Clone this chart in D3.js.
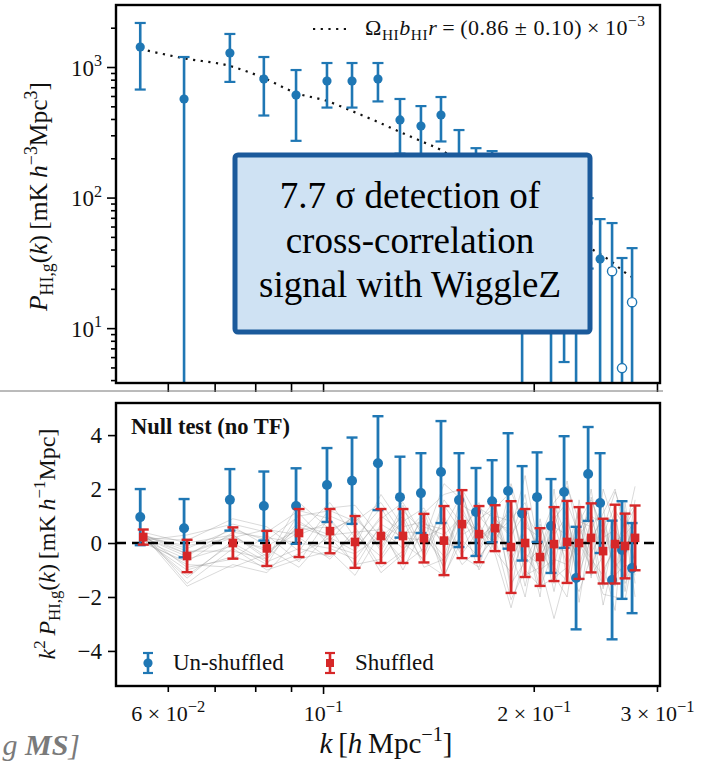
<!DOCTYPE html>
<html><head><meta charset="utf-8">
<script src="https://cdn.jsdelivr.net/npm/d3@7"></script>
<style>body{margin:0;background:#fff} svg{display:block} text{white-space:pre;font-family:"Liberation Serif","Times New Roman",serif}</style>
</head><body><svg id="c" width="708" height="765"></svg>
<script>
// ---------- data ----------
const kBins = [0.0548,0.0633,0.0736,0.0823,0.0915,0.1013,0.1100,0.1198,0.1288,0.1380,0.1474,0.1564,0.1654,0.1744,0.1838,0.1925,0.2022,0.2117,0.2210,0.2299,0.2392,0.2488,0.2588,0.2674,0.2764];
// top panel: cross power spectrum (|value|), error, negative flag (open marker)
const pCross    = [1423,569,1280,809,610,781,781,809,393,353,429,180,130,120,50,40,60,45,30,35,63.8,33.8,27.3,4.94,15.8];
const pCrossErr = [751,624,511,384,338,292,292,264,176,149,160,149,109,107,35,60,40,55,24.5,50,35.2,34.6,36.5,29.5,25.2];
const pNegative = [0,0,0,0,0,0,0,0,0,0,0,0,0,0,0,0,0,0,0,0,0,0,1,1,1];
const pModel    = [1374,1166,1018,824,632,549,460,379,318,271,231,190,157,129,108,90.7,76,64.9,55.3,48.1,41.8,36.9,32.1,27.8,24.6];
// bottom panel: null test
const unshuffled    = [0.96,0.55,1.60,1.37,1.37,2.15,2.31,2.96,1.70,1.85,2.63,1.59,1.15,1.55,1.93,1.10,1.70,0.63,1.89,-1.30,2.56,1.48,-1.37,-0.26,-0.93];
const unshuffledErr = [1.04,1.08,1.14,1.28,1.40,1.37,1.60,1.74,1.50,1.48,1.89,1.74,1.63,1.52,2.14,1.75,1.66,1.74,2.07,1.90,1.74,1.85,2.20,1.81,1.67];
const shuffled      = [0.22,-0.48,0.00,-0.20,0.37,0.44,0.04,0.26,0.26,0.18,0.09,0.70,0.33,0.55,-0.15,0.00,-0.52,-0.04,0.04,0.00,0.19,-0.30,-0.04,-0.11,0.19];
const shuffledErr   = [0.28,0.60,0.58,0.65,0.89,0.82,0.96,1.00,1.00,0.90,1.28,1.26,1.04,0.85,1.70,1.26,1.07,1.37,1.52,1.33,1.28,1.20,1.46,1.20,1.20];
// individual shuffled realisations (thin grey lines), approximate
const nullRuns = [
 [0.3,-0.2,0.5,0.1,1.0,1.2,0.8,1.5,0.3,1.1,1.8,2.0,0.9,1.3,1.9,0.6,0.2,1.5,2.1,0.8,1.6,0.5,1.9,0.9,1.4],
 [0.1,-1.0,-0.5,-0.9,-0.4,0.2,-0.8,-0.6,0.5,-0.7,-1.2,0.1,-0.5,0.2,-2.1,-1.0,-1.6,-1.3,-0.9,-1.8,-0.5,-1.6,-1.2,-0.8,-1.0],
 [0.2,-0.4,0.3,-0.5,0.8,0.1,1.1,-0.3,1.2,0.4,-0.5,1.4,1.0,0.3,0.9,1.5,-0.6,0.7,-0.8,1.2,-0.4,0.6,-1.1,0.9,0.3],
 [0.4,-1.5,-0.2,-1.0,-0.6,-0.3,-1.2,0.4,-0.8,-0.2,0.8,-0.5,-0.9,1.1,-1.5,-0.7,0.5,-1.8,0.6,-0.9,0.8,-1.7,0.4,-1.5,-0.6],
 [0.1,0.3,0.7,0.4,1.2,0.9,-0.2,0.9,1.5,0.2,0.6,1.8,0.1,0.6,1.2,-0.5,-1.2,0.9,1.5,0.3,0.9,-0.4,1.2,0.6,1.3],
 [0.3,-0.9,-0.6,0.3,-0.7,1.0,0.6,-0.9,-0.3,1.0,-1.3,0.5,1.3,0.9,0.3,1.1,0.2,-0.9,-1.4,0.9,-1.2,-0.5,0.9,-0.6,1.0],
 [0.2,-0.1,0.2,-0.3,0.4,1.5,0.2,1.3,0.0,-0.6,1.0,-0.4,0.5,0.0,1.6,-1.2,-0.9,0.3,1.0,-1.1,0.2,0.9,-0.7,-1.3,-0.4],
 [0.0,-0.7,0.4,0.2,0.0,-0.2,-0.6,0.6,-1.0,0.6,0.3,1.0,-0.3,0.8,-0.6,0.4,-1.7,-0.2,-0.3,0.5,1.2,-1.0,-0.2,0.8,-1.2],
 [0.3,-0.3,-0.3,-0.6,1.5,0.5,0.9,0.0,0.8,1.3,-0.2,1.1,0.3,1.4,-0.9,0.8,-0.3,1.4,0.2,-0.5,1.7,0.2,0.5,-0.2,0.7],
 [0.2,-1.2,0.0,-0.7,-0.2,-0.5,0.3,-0.5,0.9,-0.9,-0.6,0.3,0.7,-0.3,-1.1,0.2,-1.0,-0.6,-0.8,0.1,-0.6,-1.2,0.1,0.3,0.8],
 [0.2,-0.5,0.6,-0.1,0.5,0.6,-0.9,0.7,0.2,0.1,2.2,1.6,0.2,0.7,0.5,2.5,-0.4,1.1,-0.3,1.3,0.0,1.1,2.0,0.4,2.1],
 [0.1,-0.8,-0.9,-0.4,0.6,0.2,-0.3,1.0,0.4,0.4,-0.9,0.9,0.4,-0.4,-2.4,-0.4,-0.8,-2.8,-1.0,0.6,-0.6,-1.9,-2.0,-2.1,-0.2],
 [0.3,-1.6,-0.8,-1.1,0.2,-0.6,0.5,-1.1,-0.4,0.7,0.5,-0.8,-0.2,1.0,0.8,-1.6,0.7,-0.9,1.4,-2.2,0.5,1.4,-1.6,1.2,-1.5],
 [0.2,0.1,0.9,0.6,-0.3,1.3,1.4,0.2,1.0,-0.4,1.4,0.4,1.5,-0.3,2.2,0.3,-2.0,2.0,-1.5,1.6,-1.3,2.0,0.6,-0.9,1.6],
 [0.1,-0.6,-0.1,-0.8,1.1,-0.1,-0.4,0.3,-0.6,1.2,-1.0,2.0,-0.6,0.4,-0.3,-2.0,0.9,-1.5,0.8,-0.4,2.0,-0.8,-2.5,1.5,-0.9],
 [0.3,-0.4,0.2,0.5,0.3,0.8,-0.1,1.8,0.6,0.8,0.0,-0.2,0.8,1.6,-1.8,1.0,-0.5,0.5,2.3,0.0,-0.9,0.3,1.4,-1.8,0.5],
 [0.2,-1.3,0.1,-0.2,-0.9,0.4,1.0,-0.2,1.4,-0.5,1.6,0.7,-1.0,0.1,1.3,-0.8,-0.2,-1.2,-2.0,0.8,0.6,-2.3,-0.4,0.6,-2.0],
 [0.4,0.0,0.3,-0.6,0.7,0.3,0.4,0.5,-0.2,0.3,-0.7,1.3,0.0,0.9,0.2,1.8,-1.3,0.6,0.3,-1.4,1.0,0.7,-0.9,-0.4,0.9]
];
// ticks
const xTicks = [0.06,0.07,0.08,0.09,0.1,0.2,0.3];
const xTickLabels = {0.06:["6 × 10","\u22122"],0.1:["10","\u22121"],0.2:["2 × 10","\u22121"],0.3:["3 × 10","\u22121"]};
const yTopTicks = [10,100,1000];
const yTopTickExp = {10:"1",100:"2",1000:"3"};
const yTopMinor = [4,5,6,7,8,9,20,30,40,50,60,70,80,90,200,300,400,500,600,700,800,900,2000];
const yBotTicks = [-4,-2,0,2,4];
const annotationLines = ["7.7 \u03c3 detection of","cross-correlation","signal with WiggleZ"];

// ---------- setup ----------
const blue = "#1f77b4", red = "#d62728";
const svg = d3.select("#c");

const L = 116, R = 660, T1 = 5, B1 = 383, T2 = 403, B2 = 686;
const x = d3.scaleLog().domain([0.0506, 0.303]).range([L, R]);
const yTop = d3.scaleLog().domain([3.8, 2985]).range([B1, T1]);
const yBot = d3.scaleLinear().domain([-5.3, 5.19]).range([B2, T2]);

function rich(sel, parts, fs, supScale) {
  const ss = supScale || 0.7;
  let shift = 0;
  parts.forEach(p => {
    const ts = sel.append("tspan").text(p.t);
    let target = 0, size = fs;
    if (p.sup) { target = -fs * 0.4; size = fs * ss; }
    if (p.sub) { target = fs * 0.22; size = fs * 0.7; }
    ts.attr("font-size", size);
    if (target !== shift) { ts.attr("dy", target - shift); shift = target; }
    if (p.i) ts.attr("font-style", "italic");
    if (p.b) ts.attr("font-weight", "bold");
  });
}

const defs = svg.append("defs");
defs.append("clipPath").attr("id","clipTop").append("rect").attr("x",L).attr("y",T1).attr("width",R-L).attr("height",B1-T1);
defs.append("clipPath").attr("id","clipBot").append("rect").attr("x",L).attr("y",T2).attr("width",R-L).attr("height",B2-T2);

// ---------- top panel ----------
const gTop = svg.append("g").attr("clip-path","url(#clipTop)");
const modelData = kBins.map((k,i)=>({k, p:pModel[i]}));
gTop.append("path").datum(modelData)
  .attr("d", d3.line().x(d=>x(d.k)).y(d=>yTop(d.p)).curve(d3.curveMonotoneX))
  .attr("fill","none").attr("stroke","#111").attr("stroke-width",2.2)
  .attr("stroke-dasharray","2.2,5.5");

const topPts = kBins.map((k,i)=>({k, v:pCross[i], e:pCrossErr[i], neg:pNegative[i]}));
const capW = 5.5;
topPts.forEach(d => {
  const cx = x(d.k);
  const hi = d.v + d.e, lo = d.v - d.e;
  const yHi = yTop(hi), yLo = lo > 0 ? yTop(lo) : B1 + 20;
  gTop.append("line").attr("x1",cx).attr("x2",cx).attr("y1",yHi).attr("y2",yLo)
    .attr("stroke",blue).attr("stroke-width",2.6);
  gTop.append("line").attr("x1",cx-capW).attr("x2",cx+capW).attr("y1",yHi).attr("y2",yHi)
    .attr("stroke",blue).attr("stroke-width",2.2);
  if (lo > 0) gTop.append("line").attr("x1",cx-capW).attr("x2",cx+capW).attr("y1",yLo).attr("y2",yLo)
    .attr("stroke",blue).attr("stroke-width",2.2);
  gTop.append("circle").attr("cx",cx).attr("cy",yTop(d.v)).attr("r",4.6)
    .attr("fill", d.neg ? "#fff" : blue).attr("stroke",blue).attr("stroke-width", d.neg ? 1.4 : 0);
});

// top legend
svg.append("line").attr("x1",313).attr("x2",349).attr("y1",29).attr("y2",29)
  .attr("stroke","#111").attr("stroke-width",2.2).attr("stroke-dasharray","2.2,5.5");
const legTxt = svg.append("text").attr("x",365).attr("y",35).attr("font-size",22).attr("fill","#111")
  .attr("textLength",280).attr("lengthAdjust","spacing");
rich(legTxt,[{t:"\u03a9"},{t:"HI",sub:1},{t:"b",i:1},{t:"HI",sub:1},{t:"r",i:1},
  {t:"\u2009=\u2009(0.86 \u00b1 0.10)\u2009×\u200910"},{t:"\u22123",sup:1}],22);

// top axes
const ayTop = svg.append("g").attr("transform",`translate(${L},0)`)
  .call(d3.axisLeft(yTop).tickValues(yTopTicks).tickSize(9).tickPadding(5).tickFormat(""));
ayTop.selectAll(".tick text").each(function(d){
  const t = d3.select(this).attr("font-size",23).attr("fill","#111").attr("dy","0.35em").attr("font-family",null);
  rich(t,[{t:"10"},{t:yTopTickExp[d],sup:1}],23);
});
svg.append("g").attr("transform",`translate(${L},0)`)
  .call(d3.axisLeft(yTop).tickValues(yTopMinor).tickSize(5).tickFormat(""));
svg.append("g").attr("transform",`translate(0,${B1})`)
  .call(d3.axisBottom(x).tickValues(xTicks).tickSize(9).tickFormat(""));

// top y label
const ylt = svg.append("text").attr("transform",`translate(47,${(58+335)/2}) rotate(-90)`)
  .attr("text-anchor","middle").attr("font-size",25.5).attr("fill","#111");
rich(ylt,[{t:"P",i:1},{t:"HI,g",sub:1},{t:"("},{t:"k",i:1},{t:")\u2009[mK\u2009"},{t:"h",i:1},{t:"\u22123",sup:1},{t:"Mpc"},{t:"3",sup:1},{t:"]"}],25.5);

// annotation box
svg.append("rect").attr("x",235).attr("y",155).attr("width",355).attr("height",177).attr("rx",3)
  .attr("fill","#cfe2f3").attr("stroke","#1b5a9b").attr("stroke-width",5);
svg.append("g").selectAll("text").data(annotationLines).join("text")
  .attr("x",410).attr("y",(d,i)=>208 + i*44.5).attr("text-anchor","middle")
  .attr("font-size",37).attr("fill","#000").text(d=>d);

// strip line between panels
svg.append("line").attr("x1",0).attr("x2",663).attr("y1",391).attr("y2",391)
  .attr("stroke","#777").attr("stroke-width",1);

// ---------- bottom panel ----------
const gBot = svg.append("g").attr("clip-path","url(#clipBot)");
nullRuns.forEach(run => {
  gBot.append("path").datum(run)
    .attr("d", d3.line().x((v,i)=>x(kBins[i])+3).y(v=>yBot(v)))
    .attr("fill","none").attr("stroke","#8f8f8f").attr("stroke-opacity",0.42).attr("stroke-width",0.8);
});
gBot.append("line").attr("x1",L).attr("x2",R).attr("y1",yBot(0)).attr("y2",yBot(0))
  .attr("stroke","#000").attr("stroke-width",2.6).attr("stroke-dasharray","10,6");

function errSeries(vals, errs, color, dx, marker) {
  vals.forEach((v,i) => {
    const cx = x(kBins[i]) + dx;
    const y1 = yBot(v + errs[i]), y2 = yBot(v - errs[i]);
    gBot.append("line").attr("x1",cx).attr("x2",cx).attr("y1",y1).attr("y2",y2)
      .attr("stroke",color).attr("stroke-width",2.8);
    [y1,y2].forEach(yy => gBot.append("line").attr("x1",cx-5.5).attr("x2",cx+5.5).attr("y1",yy).attr("y2",yy)
      .attr("stroke",color).attr("stroke-width",2.4));
    if (marker === "circle") gBot.append("circle").attr("cx",cx).attr("cy",yBot(v)).attr("r",5).attr("fill",color);
    else gBot.append("rect").attr("x",cx-4.3).attr("y",yBot(v)-4.3).attr("width",8.6).attr("height",8.6).attr("fill",color);
  });
}
errSeries(unshuffled, unshuffledErr, blue, 0, "circle");
errSeries(shuffled, shuffledErr, red, 3, "square");

// title
svg.append("text").attr("x",131).attr("y",434).attr("font-size",22.5).attr("font-weight","bold")
  .attr("fill","#111").text("Null test (no TF)");

// legend
function legendHandle(cx, cy, color, marker) {
  svg.append("line").attr("x1",cx).attr("x2",cx).attr("y1",cy-10).attr("y2",cy+10).attr("stroke",color).attr("stroke-width",2.6);
  [cy-10,cy+10].forEach(yy=>svg.append("line").attr("x1",cx-5).attr("x2",cx+5).attr("y1",yy).attr("y2",yy).attr("stroke",color).attr("stroke-width",2.2));
  if (marker==="circle") svg.append("circle").attr("cx",cx).attr("cy",cy).attr("r",4.6).attr("fill",color);
  else svg.append("rect").attr("x",cx-4).attr("y",cy-4).attr("width",8).attr("height",8).attr("fill",color);
}
legendHandle(148, 663, blue, "circle");
legendHandle(330, 663, red, "square");
svg.append("text").attr("x",173).attr("y",670).attr("font-size",23).attr("fill","#111").text("Un-shuffled");
svg.append("text").attr("x",355).attr("y",670).attr("font-size",23).attr("fill","#111").text("Shuffled");

// bottom axes
const ayBot = svg.append("g").attr("transform",`translate(${L},0)`)
  .call(d3.axisLeft(yBot).tickValues(yBotTicks).tickSize(8).tickPadding(6).tickFormat(d=> d<0 ? "\u2212"+(-d) : String(d)));
ayBot.selectAll(".tick text").attr("font-size",23).attr("font-family",null).attr("fill","#111");
const axBot = svg.append("g").attr("transform",`translate(0,${B2})`)
  .call(d3.axisBottom(x).tickValues(xTicks).tickSize(7).tickPadding(6).tickFormat(""));
axBot.selectAll(".tick line").attr("y2", d => d===0.1 ? 8 : 6);
axBot.selectAll(".tick text").each(function(d){
  const lab = xTickLabels[d];
  if (!lab) return;
  const t = d3.select(this).attr("font-size",22).attr("font-family",null).attr("fill","#111").attr("dy","1.0em");
  rich(t,[{t:lab[0]},{t:lab[1],sup:1}],22,0.75);
});

// bottom y label
const ylb = svg.append("text").attr("transform",`translate(55,${(420+668)/2}) rotate(-90)`)
  .attr("text-anchor","middle").attr("font-size",24).attr("fill","#111");
rich(ylb,[{t:"k",i:1},{t:"2",sup:1},{t:"\u2009P",i:1},{t:"HI,g",sub:1},{t:"("},{t:"k",i:1},{t:")\u2009[mK\u2009"},{t:"h",i:1},{t:"\u22121",sup:1},{t:"Mpc]"}],24);

// x label
const xl = svg.append("text").attr("x",386).attr("y",753).attr("text-anchor","middle").attr("font-size",29).attr("fill","#111");
rich(xl,[{t:"k",i:1},{t:"\u2009["},{t:"h",i:1},{t:"\u2009Mpc"},{t:"\u22121",sup:1},{t:"]"}],29);

// cut-off slide text at bottom left
const cut = svg.append("text").attr("x",80).attr("y",755).attr("text-anchor","end").attr("font-size",30)
  .attr("fill","#7a7a7a").attr("font-style","italic");
cut.append("tspan").text("g ");
cut.append("tspan").attr("font-weight","bold").text("MS");
cut.append("tspan").text("]");

// style axes
svg.selectAll(".domain").remove();
svg.selectAll(".tick line").attr("stroke","#000").attr("stroke-width",1.6);

// frames
[[T1,B1],[T2,B2]].forEach(([t,b]) => svg.append("rect").attr("x",L).attr("y",t).attr("width",R-L).attr("height",b-t)
  .attr("fill","none").attr("stroke","#000").attr("stroke-width",2.4));
</script></body></html>
